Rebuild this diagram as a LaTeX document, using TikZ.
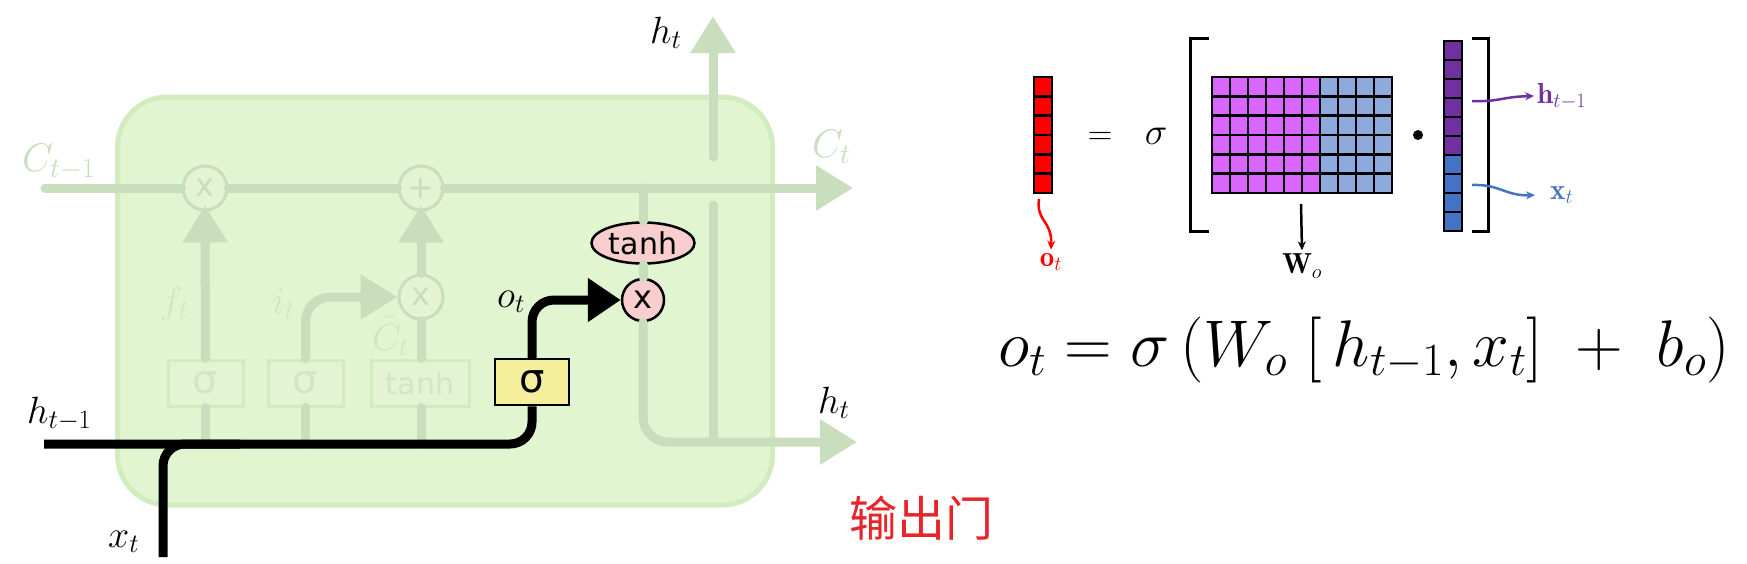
\RequirePackage{fix-cm}
\documentclass[tikz,border=0pt]{standalone}
\usepackage{amsmath,amssymb}
\usepackage{fontspec}
\usepackage{xcolor}
\usepackage{tikz}
\usetikzlibrary{shapes.geometric, positioning, arrows.meta, calc}

\newfontfamily\gatefont{DejaVu Sans}
\newfontfamily\cjk{Noto Sans CJK SC}

\definecolor{cellfill}{RGB}{224,245,208}
\definecolor{celledge}{RGB}{210,236,192}
\definecolor{flowgreen}{RGB}{200,222,188}
\definecolor{fadetext}{RGB}{208,230,196}
\definecolor{fadefill}{RGB}{228,244,210}
\definecolor{gateyellow}{RGB}{245,238,155}
\definecolor{oppink}{RGB}{248,206,206}
\definecolor{wpink}{RGB}{217,102,255}
\definecolor{wblue}{RGB}{142,169,219}
\definecolor{hpurple}{RGB}{112,48,160}
\definecolor{xblue}{RGB}{68,114,196}
\definecolor{gatered}{RGB}{232,35,42}

\begin{document}
\begin{tikzpicture}[
    x=1pt,y=-1pt,
    cellbox/.style={draw=celledge, line width=5pt, fill=cellfill, rounded corners=50pt, minimum width=655pt, minimum height=408pt},
    fadegate/.style={draw=celledge, line width=3pt, fill=fadefill, minimum width=75pt, minimum height=46pt, inner sep=0pt, text=fadetext, font=\gatefont\fontsize{40}{40}\selectfont},
    fadeop/.style={circle, draw=flowgreen, line width=3pt, fill=fadefill, minimum size=44pt, inner sep=0pt, text=flowgreen, font=\gatefont\fontsize{32}{32}\selectfont},
    gate/.style={draw, line width=2.5pt, fill=gateyellow, minimum width=74pt, minimum height=46pt, inner sep=0pt, font=\gatefont\fontsize{40}{40}\selectfont},
    pointop/.style={circle, draw, line width=2.5pt, fill=oppink, minimum size=42pt, inner sep=0pt, font=\gatefont\fontsize{32}{32}\selectfont},
    tanhop/.style={ellipse, draw, line width=2.5pt, fill=oppink, minimum width=103pt, minimum height=41pt, inner sep=0pt, font=\gatefont\fontsize{30}{30}\selectfont},
    flow/.style={draw=flowgreen, line width=9pt, line cap=round},
    flowtip/.style={-{Triangle[length=37pt,width=43pt]}},
    active/.style={draw=black, line width=9pt},
    activetip/.style={-{Triangle[length=33pt,width=42pt]}},
    lbl/.style={anchor=base west, inner sep=0pt, font=\fontsize{38}{40}\selectfont},
    fadelbl/.style={lbl, text=fadetext},
    vcell/.style={draw, line width=2.5pt, minimum width=18pt, minimum height=19.3pt, inner sep=0pt},
    thinarrow/.style={line width=2.5pt, -{Stealth[length=9pt,width=8pt]}},
    eqlbl/.style={font=\fontsize{29}{31}\selectfont}
]
    \useasboundingbox (0,0) rectangle (1747,563);

    % ================= LSTM CELL =================
    \node[cellbox] (cell) at (445,301) {};

    % ================= POINTWISE OPS =================
    \node[fadeop] (fx) at (205,188) {x};
    \node[fadeop] (addop) at (421,188) {+};
    \node[fadeop] (ix) at (421,297) {x};
    \node[pointop] (ox) at (643,300) {x};
    \node[tanhop] (th) at (643,243) {tanh};

    % ================= GATES =================
    \node[fadegate] (fg) at (205.5,383) {σ};
    \node[fadegate] (ig) at (305.5,383) {σ};
    \node[fadegate, minimum width=98pt, font=\gatefont\fontsize{30}{30}\selectfont] (tg) at (420,383) {tanh};
    \node[gate] (og) at (532,382) {σ};

    % ================= CELL STATE =================
    \coordinate (cin) at (45,188);
    \coordinate (cout) at (853,188);
    \coordinate (ctap) at (643,188);
    \draw[flow] (cin) -- (fx);
    \draw[flow] (fx) -- (addop);
    \draw[flow, flowtip] (addop) -- (cout);
    \draw[flow] (ctap) -- (th);
    \draw[flow] (th) -- (ox);

    % faded gates
    \coordinate (fgb) at (205.5,444);
    \coordinate (igb) at (305.5,444);
    \coordinate (tgb) at (421,444);
    \draw[flow] (fg) -- (fgb);
    \draw[flow] (ig) -- (igb);
    \draw[flow] (tg.south -| ix) -- (tgb);
    \draw[flow, flowtip, shorten >=-6pt] (fg) -- (fx);
    \draw[flow, flowtip, rounded corners=25pt] (ig) |- (ix);
    \draw[flow] (tg.north -| ix) -- (ix);
    \draw[flow, flowtip, shorten >=-6pt] (ix) -- (addop);

    % hidden state out
    \coordinate (hout) at (857,442);
    \coordinate (hup0) at (713,205);
    \coordinate (hup1) at (713,442);
    \coordinate (hup2) at (713,157);
    \coordinate (htop) at (713,16);
    \draw[flow, flowtip, rounded corners=25pt] (ox) |- (hout);
    \draw[flow] (hup0) -- (hup1);
    \draw[flow, flowtip] (hup2) -- (htop);

    % ================= OUTPUT GATE PATH =================
    \coordinate (hin) at (44,444);
    \coordinate (xin) at (163,557);
    \coordinate (xjoin) at (240,444);
    \draw[active, rounded corners=22pt] (hin) -| (og);
    \draw[active, rounded corners=22pt] (xin) |- (xjoin);
    \draw[active, activetip, rounded corners=22pt] (og) |- (ox);

    % ================= LABELS =================
    \node[fadelbl, text=flowgreen, font=\fontsize{40}{42}\selectfont] (cprev) at (22,171) {$C_{t-1}$};
    \node[fadelbl, text=flowgreen, font=\fontsize{40}{42}\selectfont] (cnext) at (812,157) {$C_t$};
    \node[fadelbl] (flbl) at (160,313) {$f_t$};
    \node[fadelbl] (ilbl) at (272,313) {$i_t$};
    \node[fadelbl] (ctlbl) at (372,350) {$\tilde{C}_t$};
    \node[lbl] (hprev) at (27,423) {$h_{t-1}$};
    \node[lbl] (xcur) at (108,547) {$x_t$};
    \node[lbl] (olab) at (497,307) {$o_t$};
    \node[lbl] (htup) at (650,43) {$h_t$};
    \node[lbl] (htright) at (818,413) {$h_t$};

    % ================= VECTOR FORM =================
    \foreach \i in {1,...,6}
        \node[vcell, fill=red] (ov-\i) at (1043,{67.3+19.33*\i}) {};
    \foreach \r in {1,...,6} {
        \foreach \c in {1,...,6}
            \node[vcell, fill=wpink] (w-\r-\c) at ({1203+18*\c},{67.3+19.33*\r}) {};
        \foreach \c in {7,...,10}
            \node[vcell, fill=wblue] (w-\r-\c) at ({1203+18*\c},{67.3+19.33*\r}) {};
    }
    \foreach \i in {1,...,6}
        \node[vcell, fill=hpurple, minimum height=19pt] (hx-\i) at (1453,{31.5+19*\i}) {};
    \foreach \i in {7,...,10}
        \node[vcell, fill=xblue, minimum height=19pt] (hx-\i) at (1453,{31.5+19*\i}) {};

    % brackets
    \draw[line width=3pt] (1209,38) -- (1190,38) -- (1190,231) -- (1209,231);
    \draw[line width=3pt] (1472,38) -- (1488,38) -- (1488,231) -- (1472,231);

    \node[eqlbl, font=\fontsize{34}{36}\selectfont] (eqsign) at (1100,138) {$=$};
    \node[eqlbl, font=\fontsize{38}{40}\selectfont] (sig) at (1156,136) {$\sigma$};
    \node[circle, fill, inner sep=0pt, minimum size=10pt] (dot) at (1418,135) {};

    \node[eqlbl, text=red] (olbl) at (1051,262) {$\mathbf{o}_t$};
    \node[eqlbl] (wlbl) at (1302,266) {$\mathbf{W}_o$};
    \node[eqlbl, anchor=base west, inner sep=3pt, text=hpurple] (hlbl) at (1534,103) {$\mathbf{h}_{t-1}$};
    \node[eqlbl, anchor=base west, inner sep=3pt, text=xblue] (xlbl) at (1547,199) {$\mathbf{x}_t$};

    \coordinate (otail) at (1039,199);
    \coordinate (wtail) at (1301,204);
    \coordinate (htail) at (1472,101);
    \coordinate (xtail) at (1472,185);
    \draw[thinarrow, red] (otail) .. controls (1036,222) and (1052,220) .. (olbl.north);
    \draw[thinarrow] (wtail) -- (wlbl.north);
    \draw[thinarrow, hpurple] (htail) .. controls (1500,102) and (1500,97) .. (hlbl.west);
    \draw[thinarrow, xblue, shorten >=12pt] (xtail) .. controls (1500,184) and (1505,196) .. (xlbl.west);

    % ================= EQUATION =================
    \node[anchor=base, inner sep=0pt, font=\fontsize{66}{70}\selectfont] (eqn) at (1364,366) {$o_t = \sigma\,(W_o\;[\,h_{t-1}, x_t]\;+\;b_o)$};

    \node[text=gatered, font=\cjk\fontsize{48}{48}\selectfont] (title) at (921,518) {输出门};

\end{tikzpicture}
\end{document}
